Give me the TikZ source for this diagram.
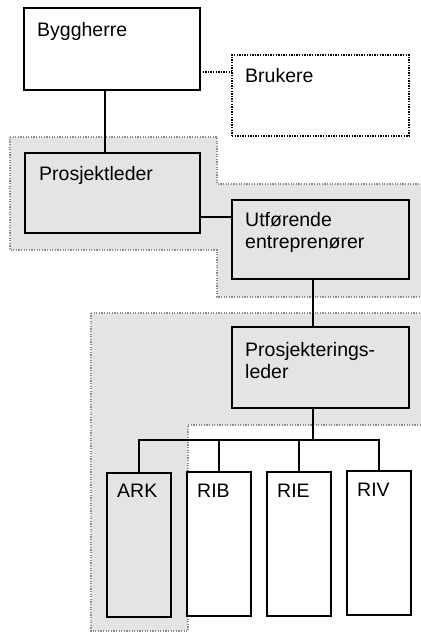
\documentclass[tikz,border=0pt]{standalone}
\usepackage{fontspec}
\setmainfont{Liberation Sans}
\begin{document}
\begin{tikzpicture}[x=1pt,y=-1pt,
  region/.style={fill=regfill, draw=regline, line width=1.6pt, dash pattern=on 1.2pt off 1.4pt},
  box/.style={draw=black, line width=1.6pt, rectangle, anchor=north west, inner sep=0pt, outer sep=0pt},
  wbox/.style={box, fill=white},
  gbox/.style={box, fill=regfill},
  dbox/.style={box, fill=white, line width=1.4pt, dash pattern=on 1.4pt off 1.2pt},
  lbl/.style={anchor=base west, inner sep=0pt, font=\fontsize{19.5}{21.5}\selectfont, align=left},
  conn/.style={draw=black, line width=1.5pt},
  dconn/.style={draw=black, line width=1.4pt, dash pattern=on 1.4pt off 1.2pt}]
\definecolor{regfill}{RGB}{228,228,228}
\definecolor{regline}{RGB}{140,140,140}
\path[use as bounding box, clip] (0,0) rectangle (421,633);
\fill[white] (0,0) rectangle (421,633);
% shaded regions
\path[region] (10,137) -- (217,137) -- (217,184) -- (430,184) -- (430,297) -- (217,297) -- (217,250) -- (10,250) -- cycle;
\path[region] (91,313) -- (430,313) -- (430,425) -- (188,425) -- (188,631) -- (91,631) -- cycle;
% boxes
\node[wbox, minimum width=176pt, minimum height=82pt] (bh) at (24,8) {};
\node[dbox, minimum width=177pt, minimum height=81pt] (bk) at (232,55) {};
\node[gbox, minimum width=175pt, minimum height=80pt] (pl) at (25,153) {};
\node[gbox, minimum width=177pt, minimum height=79pt] (ut) at (232,200) {};
\node[gbox, minimum width=177pt, minimum height=81pt] (ps) at (232,327) {};
\node[gbox, minimum width=64pt, minimum height=144pt] (ark) at (107,473) {};
\node[wbox, minimum width=64pt, minimum height=144pt] (rib) at (187,472) {};
\node[wbox, minimum width=64pt, minimum height=144pt] (rie) at (267,472) {};
\node[wbox, minimum width=64pt, minimum height=144pt] (riv) at (347,471) {};
% labels
\node[lbl] (tbh) at ([shift={(13,28)}]bh.north west) {Byggherre};
\node[lbl] (tbk) at ([shift={(13,27)}]bk.north west) {Brukere};
\node[lbl] (tpl) at ([shift={(14,27)}]pl.north west) {Prosjektleder};
\node[lbl] (tut) at ([shift={(13,48)}]ut.north west) {Utførende\\entreprenører};
\node[lbl] (tps) at ([shift={(13,51)}]ps.north west) {Prosjekterings-\\leder};
\node[lbl] (tark) at ([shift={(10,24)}]ark.north west) {ARK};
\node[lbl] (trib) at ([shift={(10,25)}]rib.north west) {RIB};
\node[lbl] (trie) at ([shift={(10,25)}]rie.north west) {RIE};
\node[lbl] (triv) at ([shift={(10,25)}]riv.north west) {RIV};
% connectors
\coordinate (bus) at (313,440);
\draw[conn] (bh.south -| 105,0) -- (pl.north -| 105,0);
\draw[dconn] (bh.east |- 0,72) -- (bk.west |- 0,72);
\draw[conn] (pl.east |- 0,217) -- (ut.west |- 0,217);
\draw[conn] (ut.south -| bus) -- (ps.north -| bus);
\draw[conn] (ps.south -| bus) -- (bus);
\draw[conn] (ark.north) -- (ark.north |- bus) -- (riv.north |- bus) -- (riv.north);
\draw[conn] (rib.north) -- (rib.north |- bus);
\draw[conn] (rie.north) -- (rie.north |- bus);
\end{tikzpicture}
\end{document}
